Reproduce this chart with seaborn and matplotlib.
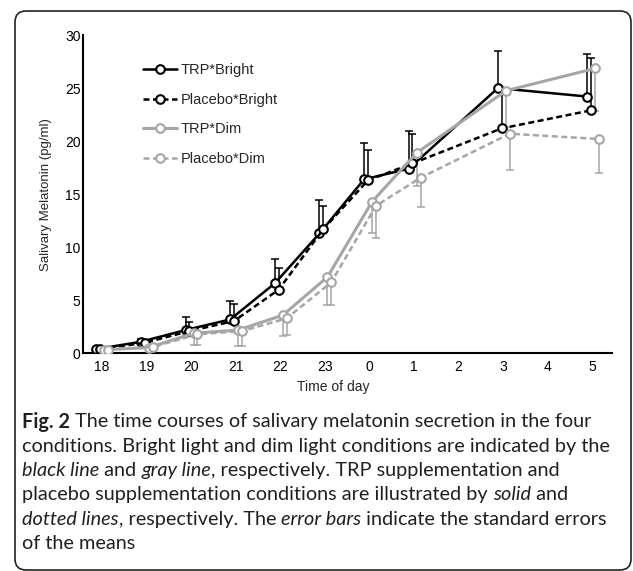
import numpy as np
import pandas as pd
import matplotlib
matplotlib.use("Agg")
import matplotlib.pyplot as plt
import seaborn as sns
from matplotlib.patches import FancyBboxPatch
from matplotlib.transforms import IdentityTransform

# clock hours on the x axis (categorical positions 0..11)
hour_labels = ['18', '19', '20', '21', '22', '23', '0', '1', '2', '3', '4', '5']
sample_pos = [0, 1, 2, 3, 4, 5, 6, 7, 9, 11]

trp_bright = [0.4, 1.1, 2.2, 3.2, 6.6, 11.3, 16.4, 17.4, 25.0, 24.2]
trp_bright_se = [0.15, 0.3, 1.2, 1.7, 2.3, 3.15, 3.4, 3.6, 3.5, 4.0]
placebo_bright = [0.4, 1.0, 2.1, 3.05, 6.0, 11.7, 16.3, 17.9, 21.2, 22.9]
placebo_bright_se = [0.1, 0.25, 0.9, 1.65, 2.0, 2.2, 2.9, 2.8, 3.5, 4.9]
trp_dim = [0.35, 0.55, 1.9, 2.2, 3.6, 7.2, 14.3, 18.9, 24.75, 26.85]
trp_dim_se = [0.1, 0.2, 1.1, 1.5, 1.95, 2.6, 3.0, 3.1, 3.4, 4.05]
placebo_dim = [0.35, 0.6, 1.8, 2.1, 3.3, 6.7, 13.9, 16.55, 20.7, 20.2]
placebo_dim_se = [0.1, 0.2, 1.05, 1.45, 1.6, 2.1, 3.0, 2.75, 3.4, 3.2]

conditions = ['TRP*Bright', 'Placebo*Bright', 'TRP*Dim', 'Placebo*Dim']

caption_lines = [
    [("Fig. 2", 'b'), (" The time courses of salivary melatonin secretion in the four", 'n')],
    [("conditions. Bright light and dim light conditions are indicated by the", 'n')],
    [("black line", 'i'), (" and ", 'n'), ("gray line", 'i'),
     (", respectively. TRP supplementation and", 'n')],
    [("placebo supplementation conditions are illustrated by ", 'n'), ("solid", 'i'), (" and", 'n')],
    [("dotted lines", 'i'), (", respectively. The ", 'n'), ("error bars", 'i'),
     (" indicate the standard errors", 'n')],
    [("of the means", 'n')],
]

GRAY = '#a6a6a6'
styles = {
    'TRP*Bright': dict(color='black', ls='-', lw=1.8, offset=-0.12, up=True),
    'Placebo*Bright': dict(color='black', ls=(0, (2.4, 1.4)), lw=1.8, offset=-0.035, up=True),
    'TRP*Dim': dict(color=GRAY, ls='-', lw=2.2, offset=0.06, up=False),
    'Placebo*Dim': dict(color=GRAY, ls=(0, (2.4, 1.4)), lw=1.8, offset=0.145, up=False),
}

rows = []
for cond, vals, ses in zip(conditions,
                           [trp_bright, placebo_bright, trp_dim, placebo_dim],
                           [trp_bright_se, placebo_bright_se, trp_dim_se, placebo_dim_se]):
    for p, v, s in zip(sample_pos, vals, ses):
        rows.append({'condition': cond, 'pos': p, 'melatonin': v, 'se': s})
df = pd.DataFrame(rows)
df['x'] = df['pos'] + df['condition'].map(lambda c: styles[c]['offset'])

sns.set_style('white')
plt.rcParams['font.family'] = ['Liberation Sans', 'DejaVu Sans']

fig = plt.figure(figsize=(6.33, 5.71), dpi=100)
ax = fig.add_axes([0.1316, 0.3811, 0.8348, 0.5576])

for cond in conditions:
    st = styles[cond]
    sub = df[df['condition'] == cond]
    zero = np.zeros(len(sub))
    yerr = [zero, sub['se'].values] if st['up'] else [sub['se'].values, zero]
    ax.errorbar(sub['x'], sub['melatonin'], yerr=yerr, fmt='none',
                ecolor=st['color'], elinewidth=1.1, capsize=2.6, capthick=1.1, zorder=2)
    sns.lineplot(data=sub, x='x', y='melatonin', ax=ax, label=cond,
                 color=st['color'], linestyle=st['ls'], linewidth=st['lw'],
                 marker='o', markersize=6.2, markerfacecolor='white',
                 markeredgecolor=st['color'], markeredgewidth=1.5,
                 sort=False, zorder=3)

ax.set_xlim(-0.412, 11.43)
ax.set_ylim(0, 30)
ax.set_xticks(range(len(hour_labels)))
ax.set_xticklabels(hour_labels)
ax.set_yticks(range(0, 31, 5))
ax.tick_params(direction='in', length=3.5, width=1.4, labelsize=10, colors='black')
ax.tick_params(axis='x', pad=5)
ax.tick_params(axis='y', pad=2)
for side in ['top', 'right']:
    ax.spines[side].set_visible(False)
for side in ['left', 'bottom']:
    ax.spines[side].set_linewidth(1.5)
    ax.spines[side].set_color('black')

ax.set_xlabel('Time of day', fontsize=10)
ax.set_ylabel('Salivary Melatonin (pg/ml)', fontsize=9.5)
ax.xaxis.set_label_coords(0.473, -0.085)
ax.yaxis.set_label_coords(-0.06, 0.5)

ax.legend(loc='upper left', bbox_to_anchor=(143.3 / 633, 1 - 63 / 571),
          bbox_transform=fig.transFigure, frameon=False, fontsize=10.5,
          borderpad=0, borderaxespad=0, handlelength=2.3, handletextpad=0.25,
          labelspacing=1.07)

# rounded frame around figure and caption
box = FancyBboxPatch((15, 1), 616, 559, boxstyle='round,pad=0,rounding_size=11',
                     transform=IdentityTransform(), fill=False, edgecolor='#222222',
                     linewidth=1.2, clip_on=False)
fig.patches.append(box)

# caption, drawn piece by piece so bold/italic words can sit inline
renderer = fig.canvas.get_renderer()
cap_size = 14.3
fig_w = fig.bbox.width
for i, segs in enumerate(caption_lines):
    x = 22 / 633
    y = 1 - (422 + 24.3 * i) / 571
    for txt, kind in segs:
        t = fig.text(x, y, txt, fontsize=cap_size, va='center', ha='left',
                     family=['Lato', 'DejaVu Sans'], color='#231f20',
                     fontweight='bold' if kind == 'b' else 'normal',
                     fontstyle='italic' if kind == 'i' else 'normal')
        x += t.get_window_extent(renderer).width / fig_w

fig.savefig('out.png', dpi=100)
